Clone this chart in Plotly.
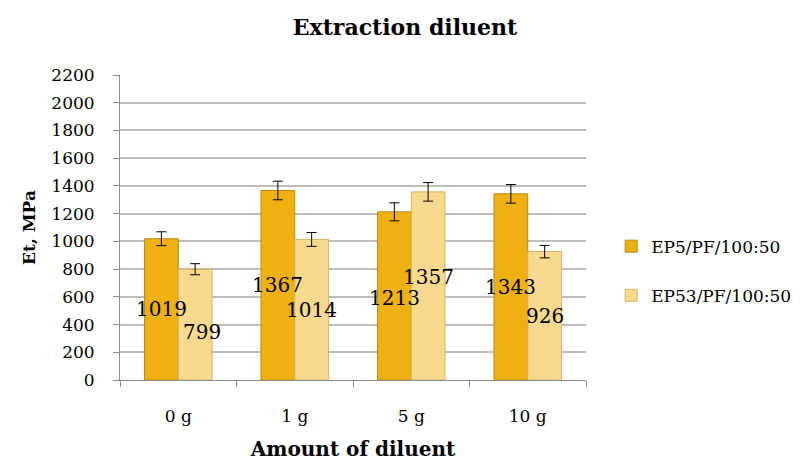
import plotly.graph_objects as go

categories = ["0 g", "1 g", "5 g", "10 g"]
series_names = ["EP5/PF/100:50", "EP53/PF/100:50"]
ep5_values = [1019, 1367, 1213, 1343]
ep53_values = [799, 1014, 1357, 926]
ep5_errors = [50, 67, 65, 67]
ep53_errors = [40, 50, 67, 45]
y_ticks = list(range(0, 2201, 200))

# small label nudges (pixels) as placed in the original chart to avoid collisions
ep5_label_nudge = [(0, 0), (0, 0), (0, -2), (0, 0)]
ep53_label_nudge = [(7, -7), (0, 0), (0, 9), (0, 0)]

FONT = "DejaVu Serif"

fig = go.Figure()
fig.add_trace(go.Bar(
    name=series_names[0], x=categories, y=ep5_values,
    marker=dict(color="#EFB112", line=dict(color="#B88A10", width=1)),
    error_y=dict(type="data", array=ep5_errors, color="black", thickness=1, width=5),
    legendgroup="a",
))
fig.add_trace(go.Bar(
    name=series_names[1], x=categories, y=ep53_values,
    marker=dict(color="#F8D98E", line=dict(color="#D8B262", width=1)),
    error_y=dict(type="data", array=ep53_errors, color="black", thickness=1, width=5),
    legendgroup="b",
))

# value labels centred in each bar, allowed to overflow the bar width
for vals, base_shift, nudges in ((ep5_values, -17, ep5_label_nudge), (ep53_values, 17, ep53_label_nudge)):
    for cat, v, (nx, ny) in zip(categories, vals, nudges):
        fig.add_annotation(x=cat, y=v / 2, xref="x", yref="y", text=str(v),
                           showarrow=False, xshift=base_shift + nx, yshift=ny,
                           font=dict(family=FONT, size=20, color="black"))

fig.update_layout(
    width=798, height=454,
    paper_bgcolor="white", plot_bgcolor="white",
    font=dict(family=FONT, size=17, color="black"),
    title=dict(text="<b>Extraction diluent</b>", x=0.4975, xanchor="center", y=0.958, yanchor="middle",
               font=dict(family=FONT, size=22, color="black")),
    margin=dict(l=112, r=220, t=67, b=82, autoexpand=False),
    barmode="group", bargap=0.42, bargroupgap=0.0,
    legend=dict(x=1.054, xanchor="left", y=0.357, yanchor="middle",
                font=dict(family=FONT, size=17), tracegroupgap=24,
                itemwidth=30),
    xaxis=dict(
        title=dict(text="<b>Amount of diluent</b>", font=dict(family=FONT, size=20), standoff=16),
        showline=True, linecolor="#8C8C8C", linewidth=1,
        ticks="outside", ticklen=6, tickcolor="#8C8C8C", tickson="boundaries",
        ticklabelstandoff=21, showgrid=False, automargin=False,
        tickfont=dict(family=FONT, size=17),
    ),
    yaxis=dict(
        title=dict(text="<b>Et, MPa</b>", font=dict(family=FONT, size=17), standoff=11),
        range=[0, 2200], tickvals=y_ticks,
        showline=True, linecolor="#8C8C8C", linewidth=1,
        ticks="outside", ticklen=6, tickcolor="#8C8C8C",
        showgrid=True, gridcolor="#BDBDBD", gridwidth=1.5,
        ticklabelstandoff=15, zeroline=False, automargin=False,
        tickfont=dict(family=FONT, size=17),
    ),
)

fig.write_html("out.html")
